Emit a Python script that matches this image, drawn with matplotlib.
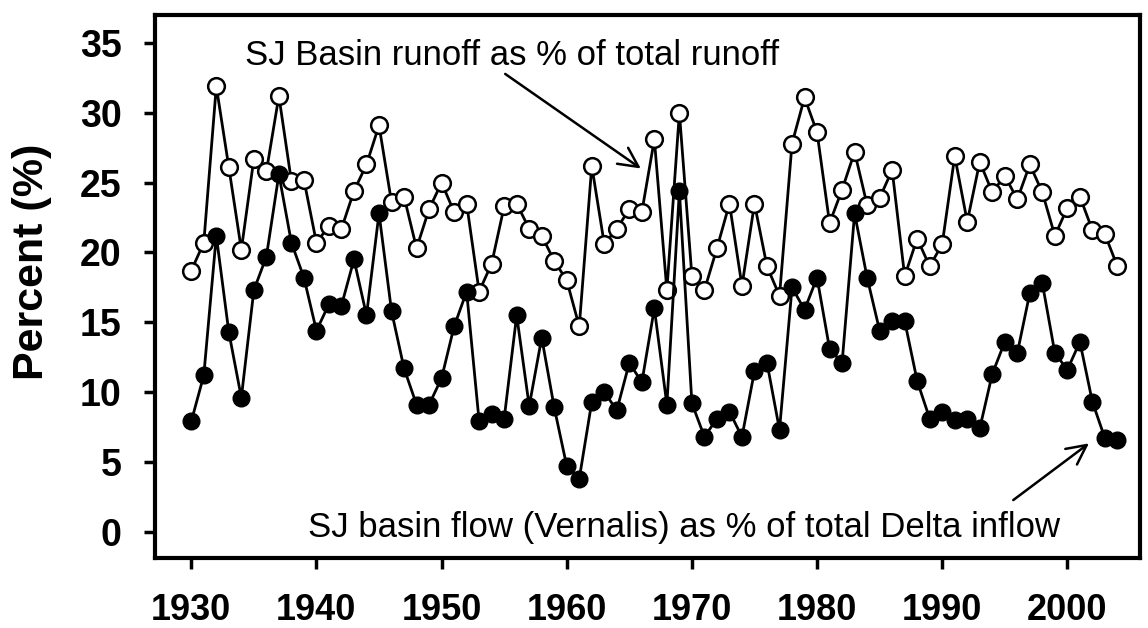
import matplotlib
matplotlib.use('Agg')
import matplotlib.pyplot as plt
import numpy as np

# %% data
years = np.arange(1930, 2005)

# SJ Basin runoff as % of total runoff (open circles)
runoff_pct = [18.7, 20.7, 31.9, 26.1, 20.2, 26.7, 25.8, 31.2, 25.1, 25.2,
              20.7, 21.9, 21.7, 24.4, 26.3, 29.1, 23.6, 24.0, 20.3, 23.1,
              25.0, 22.9, 23.5, 17.2, 19.2, 23.3, 23.5, 21.7, 21.2, 19.4,
              18.0, 14.7, 26.2, 20.6, 21.7, 23.1, 22.9, 28.1, 17.3, 30.0,
              18.3, 17.3, 20.3, 23.5, 17.6, 23.5, 19.0, 16.9, 27.8, 31.1,
              28.6, 22.1, 24.5, 27.2, 23.4, 23.9, 25.9, 18.3, 21.0, 19.0,
              20.6, 26.9, 22.2, 26.5, 24.3, 25.5, 23.8, 26.3, 24.3, 21.2,
              23.2, 24.0, 21.6, 21.3, 19.0]

# SJ basin flow (Vernalis) as % of total Delta inflow (filled circles)
vernalis_pct = [7.9, 11.2, 21.2, 14.3, 9.6, 17.3, 19.7, 25.6, 20.7, 18.2,
                14.4, 16.3, 16.2, 19.5, 15.5, 22.8, 15.8, 11.7, 9.1, 9.1,
                11.0, 14.7, 17.2, 7.9, 8.4, 8.1, 15.5, 9.0, 13.9, 8.9,
                4.7, 3.8, 9.3, 10.0, 8.7, 12.1, 10.7, 16.0, 9.1, 24.4,
                9.2, 6.8, 8.1, 8.6, 6.8, 11.5, 12.1, 7.3, 17.5, 15.9,
                18.2, 13.1, 12.1, 22.8, 18.2, 14.4, 15.1, 15.1, 10.8, 8.1,
                8.6, 8.0, 8.1, 7.4, 11.3, 13.6, 12.8, 17.1, 17.8, 12.8,
                11.6, 13.6, 9.3, 6.7, 6.6]

xticks = [1930, 1940, 1950, 1960, 1970, 1980, 1990, 2000]
yticks = [0, 5, 10, 15, 20, 25, 30, 35]

# %% plotting
plt.rcParams['font.family'] = ['Liberation Sans', 'DejaVu Sans']

fig = plt.figure(figsize=(11.48, 6.28), dpi=100)
ax = fig.add_axes([0.135, 0.111, 0.858, 0.865])

ax.plot(years, runoff_pct, color='black', lw=2.0, marker='o', ms=12,
        mfc='white', mec='black', mew=1.8, zorder=3)
ax.plot(years, vernalis_pct, color='black', lw=2.0, marker='o', ms=12,
        mfc='black', mec='black', mew=1.0, zorder=4)

ax.set_xlim(1927.1, 2005.8)
ax.set_ylim(-1.9, 37.0)
ax.set_xticks(xticks)
ax.set_yticks(yticks)
ax.set_xticklabels([str(v) for v in xticks], fontsize=26, fontweight='bold')
ax.set_yticklabels([str(v) for v in yticks], fontsize=27, fontweight='bold')
ax.tick_params(direction='out', length=8, width=2.5)
ax.tick_params(axis='x', pad=17)
ax.tick_params(axis='y', pad=16)
for s in ax.spines.values():
    s.set_linewidth(3)

ax.set_ylabel('Percent (%)', fontsize=31, fontweight='bold')
ax.yaxis.set_label_coords(-0.105, 0.545)

ax.text(1934.3, 34.1, 'SJ Basin runoff as % of total runoff',
        fontsize=25, ha='left', va='center')
ax.annotate('', xy=(1966.1, 25.9), xytext=(1954.9, 32.9),
            arrowprops=dict(arrowstyle='->', lw=1.8, color='black',
                            mutation_scale=35))

ax.text(1939.3, 0.3, 'SJ basin flow (Vernalis) as % of total Delta inflow',
        fontsize=25, ha='left', va='center')
ax.annotate('', xy=(2001.9, 6.45), xytext=(1995.5, 2.15),
            arrowprops=dict(arrowstyle='->', lw=1.8, color='black',
                            mutation_scale=35))

plt.savefig('out.png', dpi=100)
